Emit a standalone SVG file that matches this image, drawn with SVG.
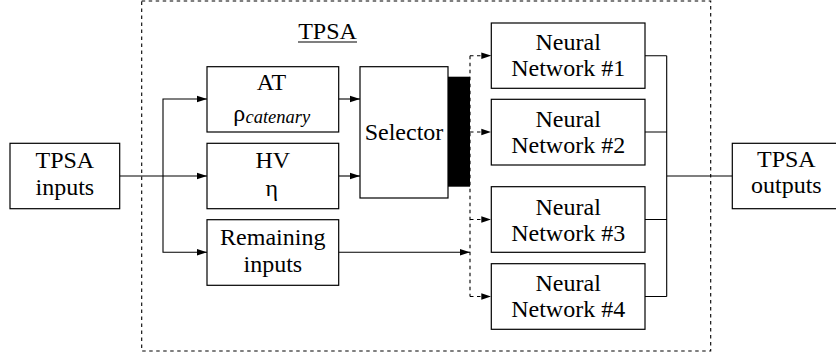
<svg xmlns="http://www.w3.org/2000/svg" width="836" height="356" viewBox="0 0 836 356">
<style>
.box{fill:#fff;stroke:#000;stroke-width:1.2}
.ln{fill:none;stroke:#000;stroke-width:1.1}
.dl{fill:none;stroke:#000;stroke-width:1.1;stroke-dasharray:3.5 3.5}
</style>
<defs>
<marker id="ah" markerUnits="userSpaceOnUse" markerWidth="10" markerHeight="8" refX="10" refY="4" orient="auto">
<path d="M0,0.8 L10,4 L0,7.2 z" fill="#000"/>
</marker>
</defs>
<rect x="141.7" y="1" width="569" height="350" fill="none" stroke="#000" stroke-width="1.1" stroke-dasharray="3.5 3.5"/>
<g id="title">
<text x="298.2" y="39.3" font-family="Liberation Serif" font-size="24">TPSA</text>
<line x1="298" y1="42" x2="357" y2="42" stroke="#000" stroke-width="1.2"/>
</g>
<g id="connectors">
<path class="ln" d="M119.7,176 H207" marker-end="url(#ah)"/>
<path class="ln" d="M163,176 V99 H207" marker-end="url(#ah)"/>
<path class="ln" d="M163,176 V252.3 H207" marker-end="url(#ah)"/>
<path class="ln" d="M338.7,99 H360" marker-end="url(#ah)"/>
<path class="ln" d="M338.7,176 H360" marker-end="url(#ah)"/>
<path class="ln" d="M338.7,252.3 H470" marker-end="url(#ah)"/>
<path class="dl" d="M470,55.7 V296.5"/>
<path class="dl" d="M470,55.7 H491.3" marker-end="url(#ah)"/>
<path class="dl" d="M470,132 H491.3" marker-end="url(#ah)"/>
<path class="dl" d="M470,219.5 H491.3" marker-end="url(#ah)"/>
<path class="dl" d="M470,296.5 H491.3" marker-end="url(#ah)"/>
<path class="ln" d="M645,55.7 H666.7 M645,132 H666.7 M645,219.5 H666.7 M645,296.5 H666.7 M666.7,55.7 V296.5 M666.7,176 H732.3"/>
</g>
<g id="tpsa-inputs">
<rect class="box" x="10" y="143.3" width="109.7" height="65.4"/>
<text x="35.5" y="167.7" font-family="Liberation Serif" font-size="24">TPSA</text>
<text x="35.5" y="195" font-family="Liberation Serif" font-size="24">inputs</text>
</g>
<g id="at">
<rect class="box" x="207" y="66.7" width="131.7" height="65.3"/>
<text x="256.8" y="90" font-family="Liberation Serif" font-size="24">AT</text>
<text x="233.3" y="120.5" font-family="Liberation Serif" font-size="24">&#961;<tspan x="245.5" y="123" font-style="italic" font-size="18.5">catenary</tspan></text>
</g>
<g id="hv">
<rect class="box" x="207" y="143.3" width="131.7" height="65.4"/>
<text x="255.5" y="168.3" font-family="Liberation Serif" font-size="24">HV</text>
<text x="265.5" y="196" font-family="Liberation Serif" font-size="24">&#951;</text>
</g>
<g id="remaining">
<rect class="box" x="207" y="219.7" width="131.7" height="65.6"/>
<text x="220.1" y="245" font-family="Liberation Serif" font-size="24">Remaining</text>
<text x="243.5" y="271.7" font-family="Liberation Serif" font-size="24">inputs</text>
</g>
<g id="selector">
<rect class="box" x="360" y="66.7" width="88" height="131.3"/>
<text x="364.7" y="140" font-family="Liberation Serif" font-size="24">Selector</text>
<rect x="448" y="76.7" width="22" height="110" fill="#000"/>
</g>
<g id="nn1">
<rect class="box" x="491.3" y="23" width="153.7" height="65.3"/>
<text x="535.5" y="50" font-family="Liberation Serif" font-size="24">Neural</text>
<text x="511.2" y="76.3" font-family="Liberation Serif" font-size="24">Network #1</text>
</g>
<g id="nn2">
<rect class="box" x="491.3" y="99.3" width="153.7" height="65.7"/>
<text x="535.5" y="126.7" font-family="Liberation Serif" font-size="24">Neural</text>
<text x="511.2" y="153.3" font-family="Liberation Serif" font-size="24">Network #2</text>
</g>
<g id="nn3">
<rect class="box" x="491.3" y="186.7" width="153.7" height="65.6"/>
<text x="535.5" y="215" font-family="Liberation Serif" font-size="24">Neural</text>
<text x="511.2" y="240.7" font-family="Liberation Serif" font-size="24">Network #3</text>
</g>
<g id="nn4">
<rect class="box" x="491.3" y="263.7" width="153.7" height="65.6"/>
<text x="535.5" y="290.7" font-family="Liberation Serif" font-size="24">Neural</text>
<text x="511.2" y="317.3" font-family="Liberation Serif" font-size="24">Network #4</text>
</g>
<g id="tpsa-outputs">
<rect class="box" x="732.3" y="143.3" width="108" height="65.4"/>
<text x="757" y="166.7" font-family="Liberation Serif" font-size="24">TPSA</text>
<text x="751" y="193.3" font-family="Liberation Serif" font-size="24">outputs</text>
</g>
</svg>
